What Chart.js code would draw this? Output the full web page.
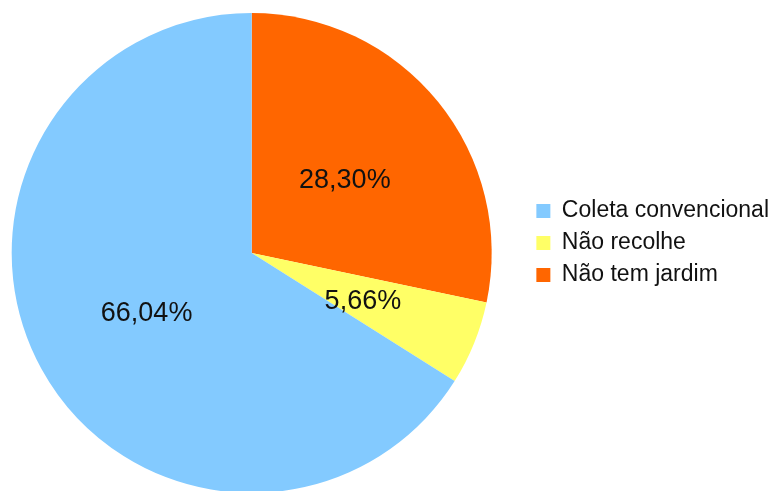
<!DOCTYPE html>
<html>
<head>
<meta charset="utf-8">
<script src="https://cdn.jsdelivr.net/npm/chart.js@4.4.1/dist/chart.umd.min.js"></script>
<style>
  html, body { margin: 0; padding: 0; background: #fff; }
  #wrap { width: 773px; height: 491px; }
</style>
</head>
<body>
<div id="wrap"><canvas id="pieChart" width="773" height="491"></canvas></div>
<script>
// ----- Data (drawn clockwise from the top, legend shown reversed) -----
const categories = ["Não tem jardim", "Não recolhe", "Coleta convencional"];
const shares = [28.30, 5.66, 66.04];
const sliceColors = ["#FF6600", "#FFFF66", "#83CAFF"];

// ----- percentage labels inside each slice -----
const sliceLabels = {
  id: 'sliceLabels',
  afterDatasetsDraw(chart) {
    const ctx = chart.ctx;
    const meta = chart.getDatasetMeta(0);
    ctx.save();
    ctx.font = '27px "Liberation Sans", Arial, sans-serif';
    ctx.fillStyle = '#111';
    ctx.textAlign = 'center';
    ctx.textBaseline = 'middle';
    meta.data.forEach((arc, i) => {
      const pos = arc.tooltipPosition();
      const txt = shares[i].toFixed(2).replace('.', ',') + '%';
      ctx.fillText(txt, pos.x, pos.y + 3);
    });
    ctx.restore();
  }
};

// nudge the legend (up, right) and the pie (left) a little
const layoutNudge = {
  id: 'layoutNudge',
  afterLayout(chart) {
    const lg = chart.legend;
    lg.top -= 10; lg.bottom -= 10;
    lg.left += 6; lg.right += 6;
    chart.chartArea.left -= 9;
    chart.chartArea.right -= 9;
  }
};

new Chart(document.getElementById('pieChart').getContext('2d'), {
  type: 'pie',
  data: {
    labels: categories,
    datasets: [{
      data: shares,
      backgroundColor: sliceColors,
      borderWidth: 0
    }]
  },
  options: {
    responsive: false,
    animation: false,
    radius: 240,
    layout: { padding: { left: 0, top: 15, right: 0, bottom: 0 } },
    plugins: {
      tooltip: { enabled: false },
      legend: {
        position: 'right',
        reverse: true,
        labels: {
          boxWidth: 14,
          boxHeight: 14,
          padding: 9,
          color: '#111',
          font: { family: '"Liberation Sans", Arial, sans-serif', size: 23 }
        }
      }
    }
  },
  plugins: [sliceLabels, layoutNudge]
});
</script>
</body>
</html>
